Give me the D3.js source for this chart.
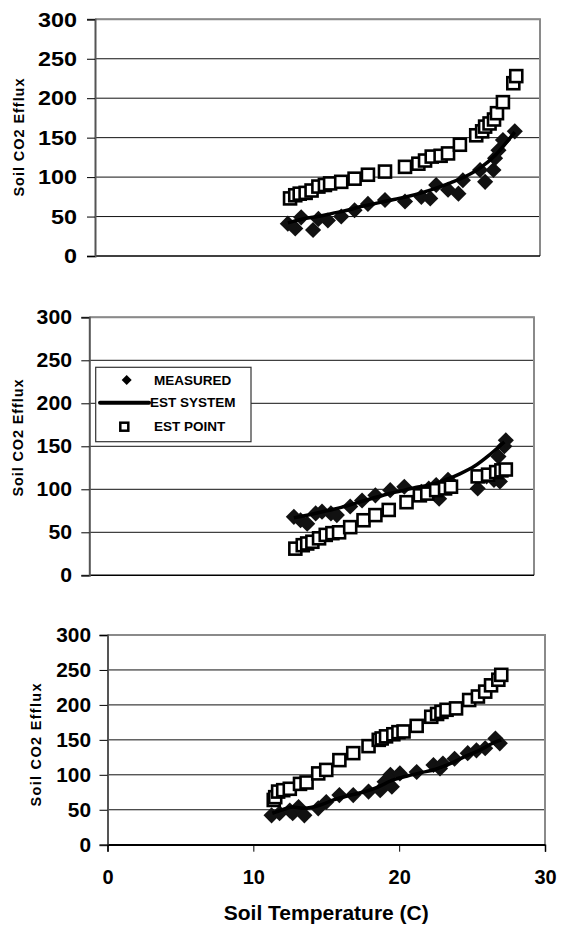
<!DOCTYPE html>
<html><head><meta charset="utf-8">
<script src="https://cdn.jsdelivr.net/npm/d3@7"></script>
<style>html,body{margin:0;padding:0;background:#fff;}svg{display:block;font-family:"Liberation Sans",Arial,sans-serif;font-weight:bold;}</style>
</head><body>
<svg id="c" width="561" height="928"></svg>
<script>
// ---- data ----
const yTicks = [0, 50, 100, 150, 200, 250, 300];
const xTicks = [0, 10, 20, 30];
const legendLabels = ["MEASURED", "EST SYSTEM", "EST POINT"];
const yTitle = "Soil CO2 Efflux";
const xTitle = "Soil Temperature (C)";

// Panel 1
const p1MeasT = [13.0,13.5,13.9,14.7,15.06,15.7,16.6,17.5,18.4,19.55,20.9,22.0,22.6,23.0,23.8,24.5,24.8,25.96,26.3,26.86,26.97,27.2,27.5,28.3];
const p1MeasV = [41,35,49,33,47,45,50,58,66,71,69,75,73,90,84,79,96,109,94,109,124,134,147,158];
const p1SysT = [13.0,14,15,16,17,18,19,20,21,22,23,24,25,26,27,28,28.3];
const p1SysV = [42,47,50,54,58,63,67,71,75,80,86,93,101,112,128,150,157];
const p1PtT = [13.15,13.5,13.8,14.2,14.6,15.06,15.5,15.85,16.6,17.5,18.4,19.55,20.9,21.8,22.25,22.7,23.3,23.8,24.6,25.7,26.1,26.3,26.6,26.9,27.1,27.5,28.2,28.4];
const p1PtV = [73,77,79,80,83,88,90,92,94,98,103,107,113,117,121,126,127,130,141,153,158,164,168,173,181,195,219,228];

// Panel 2
const p2MeasT = [13.8,14.25,14.7,15.27,15.7,16.3,16.7,17.6,18.4,19.3,20.3,21.25,22.4,22.9,23.4,23.6,24.2,26.2,26.8,27.3,27.7,27.6,28.0,28.1];
const p2MeasV = [68,64,60,72,74,72,70,80,87,93,99,103,97,101,105,89,111,101,115,111,109,138,150,157];
const p2SysT = [13.8,15,16,17,18,19,20,21,22,23,24,25,26,27,28];
const p2SysV = [67,71,75,79,84,89,94,98,102,105,111,118,127,140,155];
const p2PtT = [13.9,14.4,14.7,15.05,15.5,15.95,16.4,16.85,17.6,18.5,19.3,20.2,21.4,22.3,22.8,23.4,24.0,24.4,26.2,26.9,27.45,27.8,28.1];
const p2PtV = [31,35,37,39,43,47,49,50,56,64,70,76,85,93,95,99,101,103,115,117,120,122,123];

// Panel 3
const p3MeasT = [11.25,11.8,12.5,12.7,13.1,13.5,14.45,15.0,15.9,16.85,17.9,18.7,19.0,19.4,19.5,20.05,21.2,22.35,22.8,23.0,23.8,24.7,25.3,25.9,26.6,26.9];
const p3MeasV = [42,45,49,45,54,42,52,61,71,71,76,78,90,100,83,102,104,114,109,116,123,131,135,138,152,145];
const p3SysT = [11.3,12,12.7,13.5,14.5,15.5,16.5,17.5,18.5,19.5,20.5,21.5,22.5,23.5,24.5,25.5,26.5,27];
const p3SysV = [45,50,54,52,56,64,70,75,82,92,98,103,108,116,126,135,146,150];
const p3PtT = [11.4,11.5,11.7,12.05,12.5,13.2,13.65,14.45,15.0,15.9,16.85,17.9,18.6,18.8,19.1,19.6,19.95,20.3,21.2,22.2,22.6,22.9,23.25,23.9,24.8,25.4,25.9,26.3,26.8,27.0];
const p3PtV = [64,68,76,78,80,87,89,102,107,121,131,141,150,152,155,158,161,162,170,183,187,190,193,195,207,212,219,228,236,243];

// ---- layout ----
const svg = d3.select("#c");
const panels = [
  {left:95, right:540, top:19.3, bottom:256, measT:p1MeasT, measV:p1MeasV, sysT:p1SysT, sysV:p1SysV, ptT:p1PtT, ptV:p1PtV,
   lblRight:77, digitW:13, fs:21, titleX:18.5, titleY:137.5, titleLen:118, xAxis:false, legend:false},
  {left:89.3, right:534, top:317.3, bottom:575.3, measT:p2MeasT, measV:p2MeasV, sysT:p2SysT, sysV:p2SysV, ptT:p2PtT, ptV:p2PtV,
   lblRight:72, digitW:11.8, fs:20, titleX:17.5, titleY:438, titleLen:117, xAxis:false, legend:true},
  {left:107.5, right:545, top:635, bottom:844.7, measT:p3MeasT, measV:p3MeasV, sysT:p3SysT, sysV:p3SysV, ptT:p3PtT, ptV:p3PtV,
   lblRight:91, digitW:11.6, fs:20, titleX:36, titleY:745, titleLen:123, xAxis:true, legend:false}
];

panels.forEach(p => {
  const x = d3.scaleLinear().domain([0, 30]).range([p.left, p.right]);
  const y = d3.scaleLinear().domain([0, 300]).range([p.bottom, p.top]);
  const g = svg.append("g");

  // gridlines
  g.append("g").selectAll("line").data(yTicks.filter(t => t > 0)).join("line")
    .attr("x1", p.left).attr("x2", p.right)
    .attr("y1", d => y(d)).attr("y2", d => y(d))
    .attr("stroke", "#111").attr("stroke-width", 1);

  // top & right border (gray)
  g.append("path")
    .attr("d", `M${p.left},${p.top}H${p.right}V${p.bottom}`)
    .attr("fill", "none").attr("stroke", "#8a8a8a").attr("stroke-width", 2);

  // bottom axis line
  g.append("line").attr("x1", p.left).attr("x2", p.right).attr("y1", p.bottom).attr("y2", p.bottom)
    .attr("stroke", "#000").attr("stroke-width", 1.5);

  // y axis
  const ya = g.append("g").attr("transform", `translate(${p.left},0)`)
    .call(d3.axisLeft(y).tickValues(yTicks).tickSize(8).tickPadding(p.left - 8 - p.lblRight));
  ya.select(".domain").attr("stroke", "#555").attr("stroke-width", 2);
  ya.selectAll(".tick line").attr("stroke", "#000").attr("stroke-width", 1);
  ya.selectAll(".tick text")
    .attr("font-size", p.fs).attr("font-weight", "bold").attr("fill", "#000")
    .attr("font-family", "Liberation Sans, Arial, sans-serif")
    .attr("textLength", d => String(d).length * p.digitW)
    .attr("lengthAdjust", "spacingAndGlyphs");

  // y title
  g.append("text")
    .attr("transform", `translate(${p.titleX},${p.titleY}) rotate(-90)`)
    .attr("text-anchor", "middle").attr("dominant-baseline", "central")
    .attr("font-size", 14.5).attr("fill", "#000")
    .attr("textLength", p.titleLen).attr("lengthAdjust", "spacing")
    .text(yTitle);

  // x axis (bottom panel)
  if (p.xAxis) {
    const xa = g.append("g").attr("transform", `translate(0,${p.bottom})`)
      .call(d3.axisBottom(x).tickValues(xTicks).tickSize(7).tickPadding(18));
    xa.select(".domain").attr("stroke", "#000").attr("stroke-width", 1.5);
    xa.selectAll(".tick line").attr("stroke", "#000");
    xa.selectAll(".tick text").attr("font-size", 20).attr("font-weight", "bold").attr("fill", "#000")
      .attr("font-family", "Liberation Sans, Arial, sans-serif");
    g.append("text").attr("x", (p.left + p.right) / 2).attr("y", 920)
      .attr("text-anchor", "middle").attr("font-size", 21).attr("fill", "#000")
      .text(xTitle);
  }

  // measured diamonds
  const meas = p.measT.map((t, i) => [t, p.measV[i]]);
  const diamond = d3.symbol(d3.symbolSquare, 130)();
  g.append("g").selectAll("path").data(meas).join("path")
    .attr("d", diamond)
    .attr("transform", d => `translate(${x(d[0])},${y(d[1])}) rotate(45)`)
    .attr("fill", "#111");

  // est system line
  const sys = p.sysT.map((t, i) => [t, p.sysV[i]]);
  g.append("path").datum(sys)
    .attr("d", d3.line().x(d => x(d[0])).y(d => y(d[1])).curve(d3.curveMonotoneX))
    .attr("fill", "none").attr("stroke", "#000").attr("stroke-width", 3.5);

  // est point squares
  const pts = p.ptT.map((t, i) => [t, p.ptV[i]]);
  const s = 12;
  g.append("g").selectAll("rect").data(pts).join("rect")
    .attr("x", d => x(d[0]) - s / 2).attr("y", d => y(d[1]) - s / 2)
    .attr("width", s).attr("height", s)
    .attr("fill", "#fff").attr("stroke", "#000").attr("stroke-width", 2.6);

  // legend
  if (p.legend) {
    const lg = g.append("g");
    lg.append("rect").attr("x", 95.7).attr("y", 367.3).attr("width", 155.3).attr("height", 74.4)
      .attr("fill", "#fff").attr("stroke", "#333").attr("stroke-width", 1.2);
    const rowY = [380, 402.7, 426.7];
    lg.append("path").attr("d", d3.symbol(d3.symbolSquare, 50)())
      .attr("transform", `translate(126.7,${rowY[0]}) rotate(45)`).attr("fill", "#000");
    lg.append("line").attr("x1", 100).attr("x2", 149).attr("y1", rowY[1]).attr("y2", rowY[1])
      .attr("stroke", "#000").attr("stroke-width", 4).attr("stroke-linecap", "round");
    lg.append("rect").attr("x", 124.3 - 4).attr("y", rowY[2] - 4).attr("width", 8).attr("height", 8)
      .attr("fill", "#fff").attr("stroke", "#000").attr("stroke-width", 2.5);
    const tx = [154, 150, 154];
    lg.selectAll("text.lab").data(legendLabels).join("text").attr("class", "lab")
      .attr("x", (d, i) => tx[i]).attr("y", (d, i) => rowY[i])
      .attr("dominant-baseline", "central")
      .attr("font-size", 13.5).attr("fill", "#000").text(d => d);
  }
});
</script>
</body></html>
